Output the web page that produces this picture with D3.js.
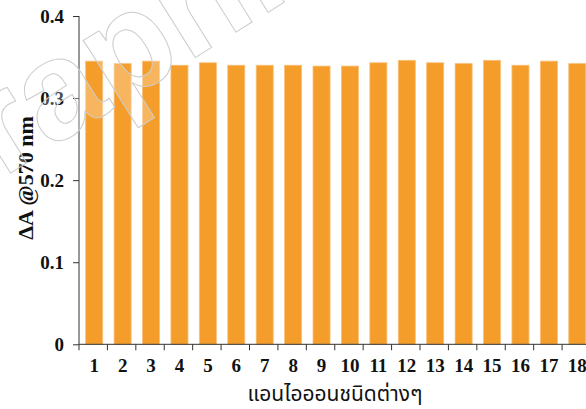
<!DOCTYPE html>
<html><head><meta charset="utf-8">
<script src="https://cdn.jsdelivr.net/npm/d3@7"></script>
<style>body{margin:0;background:#fff}svg{display:block}</style>
</head><body>
<svg id="c" width="586" height="409"></svg>
<script>
const categories = ["1","2","3","4","5","6","7","8","9","10","11","12","13","14","15","16","17","18"];
const values = [0.345,0.342,0.345,0.340,0.343,0.340,0.340,0.340,0.339,0.339,0.343,0.346,0.343,0.342,0.346,0.340,0.345,0.342];
const yTicks = [0,0.1,0.2,0.3,0.4];
const yTickLabels = ["0","0.1","0.2","0.3","0.4"];
const yTitle = "ΔA @570 nm";
const xTitle = "แอนไอออนชนิดต่างๆ";
const watermark = "Graphics";

const svg = d3.select("#c");
const x = d3.scaleBand().domain(categories).range([79, 590.5]).paddingInner(0.4).paddingOuter(0.2);
const y = d3.scaleLinear().domain([0, 0.4]).range([344.3, 16]);
const step = x.step();

// bars
svg.append("g").selectAll("rect").data(values).join("rect")
  .attr("x", (d,i) => x(categories[i]) + 1)
  .attr("y", d => y(d))
  .attr("width", x.bandwidth())
  .attr("height", d => y(0) - y(d))
  .attr("fill", "#f59d2a")
  .attr("stroke", "#f8c07a")
  .attr("stroke-width", 0.8);

// y axis
const yAxis = d3.axisLeft(y).tickValues(yTicks).tickFormat((d,i) => yTickLabels[i]).tickSize(6).tickPadding(9);
const gy = svg.append("g").attr("transform", "translate(79,0)").call(yAxis);
gy.select(".domain").attr("stroke", "#333").attr("d", `M0,${y(0.4)}V${y(0)}`);
gy.selectAll(".tick line").attr("stroke", "#333");
gy.selectAll("text").attr("font-family", "'Liberation Serif', serif").attr("font-weight", "bold")
  .attr("font-size", 19).attr("fill", "#111");

// x axis
const xAxis = d3.axisBottom(x).tickSize(0).tickPadding(14);
const gx = svg.append("g").attr("transform", `translate(1,${y(0)})`).call(xAxis);
gx.select(".domain").attr("stroke", "#333").attr("d", `M78,0H586`);
gx.selectAll("text").attr("font-family", "'Liberation Serif', serif").attr("font-weight", "bold")
  .attr("font-size", 19).attr("fill", "#111");
// boundary ticks
const bounds = categories.map(c => x(c) - step * x.paddingOuter()).concat([x(categories[categories.length-1]) + x.bandwidth() + step*x.paddingOuter()]);
svg.append("g").selectAll("line").data(bounds).join("line")
  .attr("x1", d => d).attr("x2", d => d)
  .attr("y1", y(0)).attr("y2", y(0) + 6)
  .attr("stroke", "#333").attr("stroke-width", 1);

// titles
svg.append("text").attr("transform", "translate(33,178) rotate(-90)")
  .attr("text-anchor", "middle").attr("font-family", "'Liberation Serif', serif")
  .attr("font-weight", "bold").attr("font-size", 22).attr("fill", "#111").text(yTitle);
svg.append("text").attr("x", 335).attr("y", 401).attr("text-anchor", "middle")
  .attr("font-family", "Tahoma, 'Noto Sans Thai', 'Noto Sans', sans-serif")
  .attr("font-size", 21).attr("fill", "#111").text(xTitle);

// watermark
svg.append("text").attr("transform", "translate(-90,236) rotate(-32)")
  .attr("font-family", "'Liberation Sans', Arial, sans-serif").attr("font-size", 140)
  .attr("font-weight", "bold")
  .attr("fill", "#fff").attr("fill-opacity", 0.25)
  .attr("stroke", "#cccccc").attr("stroke-width", 1).text(watermark);
</script>
</body></html>
